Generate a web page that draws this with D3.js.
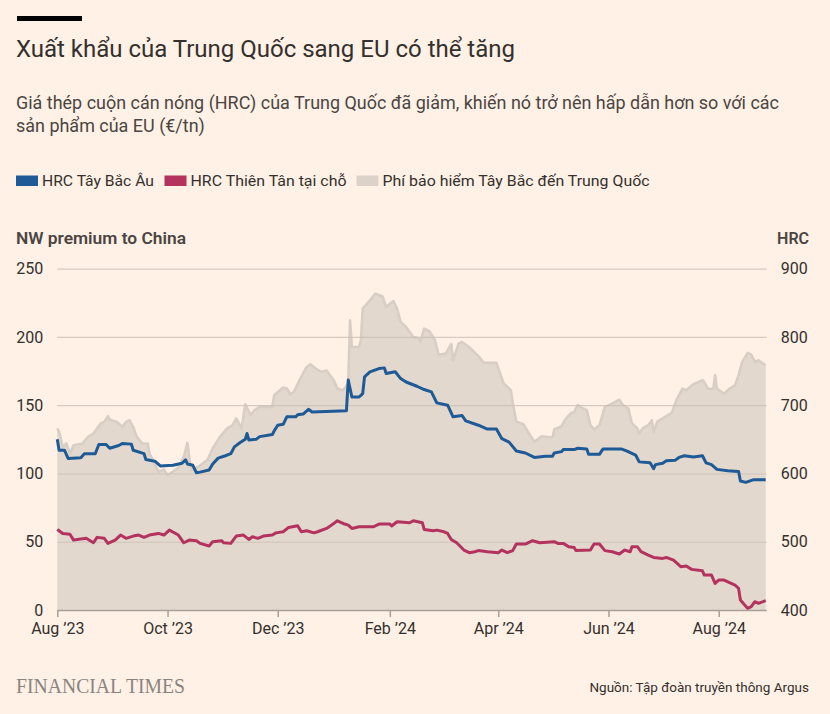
<!DOCTYPE html>
<html><head><meta charset="utf-8">
<script src="https://cdn.jsdelivr.net/npm/d3@7"></script>
<style>
body{margin:0;background:#fff1e5;}
svg{display:block;font-family:Roboto,"Noto Sans",sans-serif;}
</style></head><body>
<svg id="c" width="830" height="714"></svg>
<script>
// ---------- DATA ----------
const premiumDates = ["2023-08-01","2023-08-02","2023-08-04","2023-08-06","2023-08-08","2023-08-10","2023-08-15","2023-08-18","2023-08-21","2023-08-25","2023-08-27","2023-08-29","2023-08-30","2023-09-03","2023-09-06","2023-09-08","2023-09-10","2023-09-12","2023-09-14","2023-09-17","2023-09-20","2023-09-21","2023-09-23","2023-09-26","2023-09-29","2023-10-01","2023-10-04","2023-10-07","2023-10-10","2023-10-12","2023-10-13","2023-10-14","2023-10-18","2023-10-23","2023-10-26","2023-10-30","2023-11-03","2023-11-06","2023-11-08","2023-11-11","2023-11-13","2023-11-16","2023-11-18","2023-11-21","2023-11-28","2023-11-29","2023-12-04","2023-12-06","2023-12-08","2023-12-10","2023-12-13","2023-12-17","2023-12-19","2023-12-22","2023-12-25","2023-12-28","2024-01-01","2024-01-03","2024-01-06","2024-01-09","2024-01-10","2024-01-11","2024-01-15","2024-01-16","2024-01-17","2024-01-21","2024-01-24","2024-01-28","2024-01-30","2024-02-03","2024-02-05","2024-02-07","2024-02-10","2024-02-14","2024-02-17","2024-02-18","2024-02-20","2024-02-23","2024-02-26","2024-02-28","2024-03-03","2024-03-06","2024-03-07","2024-03-10","2024-03-12","2024-03-16","2024-03-21","2024-03-24","2024-03-31","2024-04-02","2024-04-04","2024-04-08","2024-04-09","2024-04-10","2024-04-11","2024-04-15","2024-04-18","2024-04-21","2024-04-25","2024-05-01","2024-05-02","2024-05-06","2024-05-08","2024-05-11","2024-05-13","2024-05-15","2024-05-18","2024-05-20","2024-05-22","2024-05-24","2024-05-27","2024-05-30","2024-06-03","2024-06-07","2024-06-09","2024-06-12","2024-06-14","2024-06-17","2024-06-18","2024-06-20","2024-06-23","2024-06-25","2024-06-26","2024-06-28","2024-07-01","2024-07-06","2024-07-09","2024-07-12","2024-07-14","2024-07-18","2024-07-23","2024-07-24","2024-07-26","2024-07-29","2024-07-30","2024-07-31","2024-08-04","2024-08-07","2024-08-10","2024-08-12","2024-08-14","2024-08-17","2024-08-19","2024-08-21","2024-08-23","2024-08-27"];
const premiumValues = [133,130.5,119.5,122,114.6,120.7,122,126.8,129.3,136.6,137.8,142,139.5,137.8,134,137.8,139,134,126.8,122,122,114.6,109.8,101.2,103,98.8,101.2,104.4,112.2,122.4,112.2,102.4,104.9,109.8,118.3,126.8,133,135.4,140.3,133,150.7,142.7,146.3,148.8,148.8,157.3,163,162.2,158,160,168.3,178,180,176.8,174.4,175.5,168.3,162.2,161,165.9,212.2,192.7,192.7,197.6,220.7,226.8,231.7,229.7,221.9,226.3,220.7,210.9,207.3,200,199,196.3,206.1,204,197.6,187,187.8,195,183,195,196.3,192.5,186,181,181,173.2,166,161,152,145,138,136,129.3,123.2,127.3,126.4,132.2,134.6,139.5,143.9,145.1,150,147.6,146.3,135.4,132.2,135.4,148.8,151.2,154.1,150,147.6,136.6,133,129.3,133,135.4,139,130.5,138,140.3,144.4,154.9,162.2,161,165.4,168.3,167,162.2,162,172,162.2,158.5,162.2,164.6,172,181.7,188.3,187,181.7,182.9,179.3];

const nwDates = ["2023-08-01","2023-08-02","2023-08-05","2023-08-07","2023-08-14","2023-08-16","2023-08-22","2023-08-24","2023-08-28","2023-08-30","2023-09-04","2023-09-06","2023-09-11","2023-09-12","2023-09-18","2023-09-19","2023-09-24","2023-09-27","2023-10-04","2023-10-09","2023-10-11","2023-10-12","2023-10-15","2023-10-17","2023-10-19","2023-10-24","2023-10-26","2023-10-29","2023-11-02","2023-11-05","2023-11-07","2023-11-10","2023-11-13","2023-11-14","2023-11-15","2023-11-19","2023-11-21","2023-11-28","2023-11-29","2023-12-01","2023-12-04","2023-12-06","2023-12-11","2023-12-12","2023-12-15","2023-12-18","2023-12-20","2024-01-08","2024-01-09","2024-01-11","2024-01-15","2024-01-17","2024-01-18","2024-01-21","2024-01-26","2024-01-29","2024-01-30","2024-02-04","2024-02-07","2024-02-10","2024-02-16","2024-02-20","2024-02-24","2024-02-27","2024-03-04","2024-03-07","2024-03-12","2024-03-14","2024-03-21","2024-03-26","2024-03-31","2024-04-03","2024-04-07","2024-04-11","2024-04-16","2024-04-21","2024-04-27","2024-05-01","2024-05-02","2024-05-06","2024-05-07","2024-05-13","2024-05-15","2024-05-20","2024-05-21","2024-05-27","2024-05-29","2024-06-08","2024-06-11","2024-06-16","2024-06-18","2024-06-24","2024-06-26","2024-06-27","2024-07-01","2024-07-03","2024-07-08","2024-07-10","2024-07-13","2024-07-18","2024-07-23","2024-07-25","2024-07-28","2024-07-31","2024-08-06","2024-08-12","2024-08-13","2024-08-16","2024-08-20","2024-08-27"];
const nwValues = [650,634,634,622,623,629,629,642.5,642.5,637,641,644,643,634,629,620.5,618,611,612,615,620,614,612,601,602,605,614,622.5,626,629,639,645,650,658.5,649,650,654,657,662.5,670.7,672,683,683,686,687,694,690,692,737,712,712,717,741.5,748.8,753.7,754.7,746.4,749,739,734,727.8,723,719.5,703.4,700,683,685,677,670.7,665,665,651,646,633,630,623.5,625.4,625.4,630,632,635,635,637,636,628,628,636,636,633,627,617,615.6,607,613,615,618.5,619.5,623.5,626,624,626,615.6,613,606,604,603,589,587,590.7,590.7];

const tjDates = ["2023-08-01","2023-08-04","2023-08-08","2023-08-10","2023-08-17","2023-08-21","2023-08-23","2023-08-27","2023-08-29","2023-09-02","2023-09-05","2023-09-08","2023-09-12","2023-09-15","2023-09-18","2023-09-21","2023-09-26","2023-09-29","2023-10-02","2023-10-07","2023-10-10","2023-10-13","2023-10-17","2023-10-19","2023-10-24","2023-10-26","2023-10-31","2023-11-01","2023-11-05","2023-11-08","2023-11-12","2023-11-15","2023-11-17","2023-11-20","2023-11-23","2023-11-28","2023-11-30","2023-12-04","2023-12-07","2023-12-12","2023-12-14","2023-12-17","2023-12-21","2023-12-23","2023-12-28","2023-12-30","2024-01-03","2024-01-07","2024-01-09","2024-01-11","2024-01-15","2024-01-23","2024-01-26","2024-02-01","2024-02-02","2024-02-05","2024-02-12","2024-02-14","2024-02-19","2024-02-20","2024-02-25","2024-02-27","2024-03-02","2024-03-04","2024-03-06","2024-03-09","2024-03-13","2024-03-16","2024-03-19","2024-03-21","2024-03-26","2024-04-01","2024-04-03","2024-04-06","2024-04-09","2024-04-11","2024-04-16","2024-04-20","2024-04-24","2024-05-02","2024-05-04","2024-05-07","2024-05-10","2024-05-13","2024-05-14","2024-05-22","2024-05-24","2024-05-27","2024-05-30","2024-06-03","2024-06-07","2024-06-10","2024-06-13","2024-06-14","2024-06-17","2024-06-19","2024-06-23","2024-06-26","2024-07-01","2024-07-03","2024-07-07","2024-07-11","2024-07-14","2024-07-17","2024-07-23","2024-07-24","2024-07-28","2024-07-30","2024-08-01","2024-08-04","2024-08-07","2024-08-10","2024-08-12","2024-08-13","2024-08-17","2024-08-19","2024-08-21","2024-08-23","2024-08-27"];
const tjValues = [518,512,511,502.4,505,498.5,506.4,505,497.6,502.4,509.8,505,508.3,509.8,506.4,509.8,512.2,509.8,517,509.8,498.5,502.4,501.5,497.6,493.7,500,501.5,498.5,497.6,508.3,509.8,503.4,507.3,505,508.3,509.8,513,514.6,521,523.4,514.6,516,513,514.6,519.5,522.9,530.7,525.9,524.4,519.5,522,522,525.9,525.9,523,529.3,527.8,530.7,527.8,518,516,517,514.6,512.2,503.4,498.5,487.8,484,485.4,487,485.4,484,487.8,484,487,496.6,496.6,501.5,498.5,500,497.6,497.6,492.7,491.7,487,487.8,496.6,496.6,487,485.4,482,487.8,485.4,492.7,492.7,485.4,480.5,477,475.6,477,473,463.4,464.4,459.5,457.5,451.2,451.2,439,443.9,443.9,440,436.6,431.7,414.6,402.4,404.9,412.2,409.8,413.7];

const leftTicks = [0,50,100,150,200,250];
const rightTicks = [400,500,600,700,800,900];
const xTickDates = ["2023-08-01","2023-10-01","2023-12-01","2024-02-01","2024-04-01","2024-06-01","2024-08-01"];
const xTickLabels = ["Aug ’23","Oct ’23","Dec ’23","Feb ’24","Apr ’24","Jun ’24","Aug ’24"];
const legendLabels = ["HRC Tây Bắc Âu","HRC Thiên Tân tại chỗ","Phí bảo hiểm Tây Bắc đến Trung Quốc"];

// ---------- CHART ----------
const svg = d3.select("#c");
const parse = d3.timeParse("%Y-%m-%d");
const X0 = 57.3, X1 = 765.7, Y0 = 610, Y1 = 268.7;
const x = d3.scaleTime().domain([parse("2023-08-01"), parse("2024-08-27")]).range([X0, X1]);
const yL = d3.scaleLinear().domain([0,250]).range([Y0,Y1]);
const yR = d3.scaleLinear().domain([400,900]).range([Y0,Y1]);
const txt = "#33302e";

svg.append("rect").attr("width",830).attr("height",714).attr("fill","#fff1e5");
svg.append("rect").attr("x",17).attr("y",16).attr("width",65).attr("height",5).attr("fill","#000");

function fit(sel, w){ sel.attr("textLength", w).attr("lengthAdjust","spacingAndGlyphs"); }
const title = svg.append("text").attr("x",16).attr("y",56.5).attr("font-size",24).attr("fill",txt)
  .text("Xuất khẩu của Trung Quốc sang EU có thể tăng");
fit(title, 499);
const s1 = svg.append("text").attr("x",16).attr("y",109.3).attr("font-size",18).attr("fill","#4a4542")
  .text("Giá thép cuộn cán nóng (HRC) của Trung Quốc đã giảm, khiến nó trở nên hấp dẫn hơn so với các");
const s1n = s1.node().getComputedTextLength();
fit(s1, 763);
const ratio = 763 / s1n;
const s2 = svg.append("text").attr("x",16).attr("y",131.7).attr("font-size",18).attr("fill","#4a4542")
  .text("sản phẩm của EU (€/tn)");
fit(s2, s2.node().getComputedTextLength()*ratio);

// legend
const legColors = ["#1d5a96","#b3325e","#ddd2c9"];
const legX = [16,164.5,356.5];
const legW = [112, 156, 267];
legendLabels.forEach((l,i)=>{
  svg.append("rect").attr("x",legX[i]).attr("y",175.5).attr("width",22).attr("height",10.5).attr("fill",legColors[i]);
  const t = svg.append("text").attr("x",legX[i]+26).attr("y",186).attr("font-size",15.5).attr("fill",txt).text(l);
  fit(t, legW[i]);
});

// axis titles
const at = svg.append("text").attr("x",16).attr("y",244).attr("font-size",16).attr("font-weight",600).attr("fill","#4a4542").text("NW premium to China");
fit(at,170);
svg.append("text").attr("x",809).attr("y",244).attr("text-anchor","end").attr("font-size",16).attr("font-weight",600).attr("fill","#4a4542").text("HRC");

// area
const areaData = premiumDates.map((d,i)=>({date:parse(d), v:premiumValues[i]}));
svg.append("path").datum(areaData)
  .attr("d", d3.area().x(d=>x(d.date)).y0(yL(0)).y1(d=>yL(d.v)))
  .attr("fill","#e3d8ce");
svg.append("path").datum(areaData)
  .attr("d", d3.line().x(d=>x(d.date)).y(d=>yL(d.v)))
  .attr("fill","none").attr("stroke","#d9cec5").attr("stroke-width",2.6).attr("stroke-linejoin","round");

// gridlines + left axis
const gl = svg.append("g").attr("transform",`translate(${X0},0)`)
  .call(d3.axisLeft(yL).tickValues(leftTicks).tickSize(-(X1-X0+1)).tickPadding(14).tickFormat(d3.format("d")));
gl.select(".domain").remove();
gl.selectAll(".tick line").attr("stroke","#c9bdb3").attr("stroke-opacity",0.75).attr("stroke-width",1.2);
gl.selectAll(".tick text").attr("font-size",16).attr("fill",txt).attr("font-family","Roboto,'Noto Sans',sans-serif");

const gr = svg.append("g").attr("transform",`translate(${X1+1},0)`)
  .call(d3.axisRight(yR).tickValues(rightTicks).tickSize(0).tickPadding(14).tickFormat(d3.format("d")));
gr.select(".domain").remove();
gr.selectAll(".tick text").attr("font-size",16).attr("fill",txt).attr("font-family","Roboto,'Noto Sans',sans-serif");

// lines
const lineR = d3.line().x(d=>x(d.date)).y(d=>yR(d.v)).curve(d3.curveLinear);
const nwData = nwDates.map((d,i)=>({date:parse(d), v:nwValues[i]}));
const tjData = tjDates.map((d,i)=>({date:parse(d), v:tjValues[i]}));
svg.append("path").datum(tjData).attr("d",lineR).attr("fill","none").attr("stroke","#b3325e").attr("stroke-width",3).attr("stroke-linejoin","round");
svg.append("path").datum(nwData).attr("d",lineR).attr("fill","none").attr("stroke","#1d5a96").attr("stroke-width",3).attr("stroke-linejoin","round");

// x axis
const gx = svg.append("g").attr("transform",`translate(0,${Y0})`)
  .call(d3.axisBottom(x).tickValues(xTickDates.map(parse)).tickSize(7).tickPadding(6)
    .tickFormat((d,i)=>xTickLabels[i]));
gx.select(".domain").attr("d",`M${X0},0.5H${X1+1}`).attr("stroke","#a8a09a").attr("stroke-width",1.5);
gx.selectAll(".tick line").attr("stroke","#a8a09a").attr("stroke-width",1.5);
gx.selectAll(".tick text").attr("font-size",16).attr("fill",txt).attr("font-family","Roboto,'Noto Sans',sans-serif");

// footer
const ft = svg.append("text").attr("x",16).attr("y",693).attr("font-family","'Liberation Serif','DejaVu Serif',serif")
  .attr("font-size",21).attr("fill","#8a8480").text("FINANCIAL TIMES");
fit(ft,169);
svg.append("text").attr("x",809).attr("y",692).attr("text-anchor","end").attr("font-size",13.5).attr("fill",txt)
  .text("Nguồn: Tập đoàn truyền thông Argus");
</script>
</body></html>
